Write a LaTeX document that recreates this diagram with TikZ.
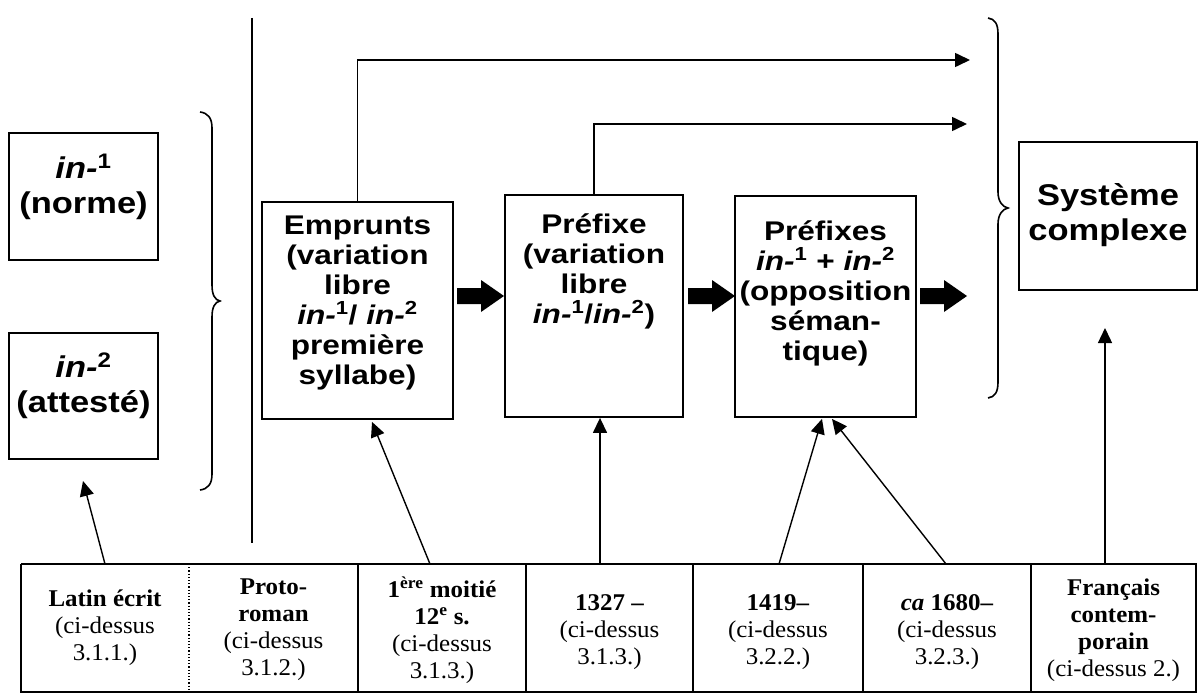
\documentclass[tikz,border=0pt]{standalone}
\usepackage{fontspec}
\setmainfont[FakeStretch=1.04]{Liberation Serif}
\newfontfamily\boxfont[FakeStretch=1.17]{Liberation Sans}
\newfontfamily\bigfont[FakeStretch=1.15]{Liberation Sans}
\usetikzlibrary{arrows.meta,calc}
\begin{document}
\begin{tikzpicture}[x=1pt,y=-1pt,
  box/.style={draw,line width=1.8pt,inner sep=0pt},
  boxtext/.style={align=center,inner sep=0pt,anchor=base,font=\boxfont\bfseries\fontsize{27}{30}\selectfont},
  bigtext/.style={align=center,inner sep=0pt,anchor=base,font=\bigfont\bfseries\fontsize{30}{35}\selectfont},
  celltext/.style={align=center,inner sep=0pt,anchor=center,font=\fontsize{24}{27}\selectfont},
  conn/.style={line width=1.4pt,-{Triangle[length=15pt,width=14pt]}},
  flow/.style={line width=1.6pt,-{Triangle[length=15pt,width=14pt]}},
  blockarrow/.style={fill=black},
  tline/.style={line width=1.8pt},
  thinline/.style={line width=1.2pt}]
\useasboundingbox (0,0) rectangle (1199,693);

% left boxes
\node[box,minimum width=149pt,minimum height=127pt] (n1) at (83.5,196.5) {};
\node[bigtext] (n1t) at (83.5,213) {\textit{in-}\textsuperscript{1}\\(norme)};
\node[box,minimum width=149pt,minimum height=126pt] (n2) at (83.5,396) {};
\node[bigtext] (n2t) at (83.5,412) {\textit{in-}\textsuperscript{2}\\(attesté)};

% left brace
\draw[line width=1.6pt] (200,112) .. controls (208,113) and (212,118) .. (212,128) -- (212,285)
  .. controls (212,295) and (215,300) .. (220,301)
  .. controls (215,302) and (212,307) .. (212,317) -- (212,474)
  .. controls (212,484) and (208,489) .. (200,490);

% vertical separator
\draw[line width=1.8pt] (252,18) -- (252,543);

% middle boxes
\node[box,minimum width=191pt,minimum height=217pt] (emp) at (357.5,310.5) {};
\node[boxtext] (empt) at (357.5,384) {Emprunts\\(variation\\libre\\\textit{in-}\textsuperscript{1}/ \textit{in-}\textsuperscript{2}\\première\\syllabe)};
\node[box,minimum width=178pt,minimum height=222pt] (pre) at (594,306) {};
\node[boxtext] (pret) at (594,323) {Préfixe\\(variation\\libre\\\textit{in-}\textsuperscript{1}/\textit{in-}\textsuperscript{2})};
\node[box,minimum width=181pt,minimum height=221pt] (pres) at (825.5,306.5) {};
\node[boxtext] (prest) at (825.5,360) {Préfixes\\\textit{in-}\textsuperscript{1} + \textit{in-}\textsuperscript{2}\\(opposition\\séman-\\tique)};
\node[box,minimum width=178pt,minimum height=148pt] (sys) at (1108,216) {};
\node[bigtext] (syst) at (1108,240) {Système\\complexe};

% block arrows
\foreach \x in {457,688,920}{
  \fill[blockarrow] (\x,288) -- (\x+24,288) -- (\x+24,280) -- (\x+47,296) -- (\x+24,312) -- (\x+24,304) -- (\x,304) -- cycle;
}

% top flow arrows
\coordinate (e1) at (970,60);
\coordinate (e2) at (967,124);
\draw[flow] (emp.north) |- (e1);
\draw[flow] (pre.north) |- (e2);

% right brace
\draw[line width=1.6pt] (988,18) .. controls (995,19) and (998,24) .. (998,34) -- (998,192)
  .. controls (998,202) and (1003,207) .. (1008,208)
  .. controls (1003,209) and (998,214) .. (998,224) -- (998,382)
  .. controls (998,392) and (995,397) .. (988,398);

% table
\draw[thinline] (21,564) -- (358,564);
\draw[tline] (358,564) -- (1197,564);
\draw[thinline] (21,564) -- (21,693);
\draw[thinline,dotted] (189,564) -- (189,693);
\foreach \x in {358,526,693,863,1031,1196}{\draw[tline] (\x,564) -- (\x,693);}
\draw[thinline] (21,692) -- (1197,692);

\node[celltext] (c1) at (105,628) {\textbf{Latin écrit}\\(ci-dessus\\3.1.1.)};
\node[celltext] (c2) at (273.5,630) {\textbf{Proto-}\\\textbf{roman}\\(ci-dessus\\3.1.2.)};
\node[celltext] (c3) at (442,630) {\textbf{1\textsuperscript{ère} moitié}\\\textbf{12\textsuperscript{e} s.}\\(ci-dessus\\3.1.3.)};
\node[celltext] (c4) at (609.5,632) {\textbf{1327 –}\\(ci-dessus\\3.1.3.)};
\node[celltext] (c5) at (778,632) {\textbf{1419–}\\(ci-dessus\\3.2.2.)};
\node[celltext] (c6) at (947,632) {\textbf{\textit{ca} 1680–}\\(ci-dessus\\3.2.3.)};
\node[celltext] (c7) at (1113.5,630) {\textbf{Français}\\\textbf{contem-}\\\textbf{porain}\\(ci-dessus 2.)};

% connectors from table to boxes
\coordinate (s1) at (105,564);
\coordinate (s3) at (430,564);
\coordinate (s4) at (600,564);
\coordinate (s5) at (779,564);
\coordinate (s6) at (946,564);
\coordinate (s7) at (1105,564);
\coordinate (tip1) at (83,481);
\coordinate (tip7) at (1105,328);
\draw[conn] (s1) -- (tip1);
\draw[conn] (s3) -- ($(emp.south)+(14.5,2)$);
\draw[conn] (s4) -- (pre.south -| s4);
\draw[conn] (s5) -- ($(pres.south)+(-3.5,1)$);
\draw[conn] (s6) -- ($(pres.south)+(6.5,1)$);
\draw[conn] (s7) -- (tip7);
\end{tikzpicture}
\end{document}
